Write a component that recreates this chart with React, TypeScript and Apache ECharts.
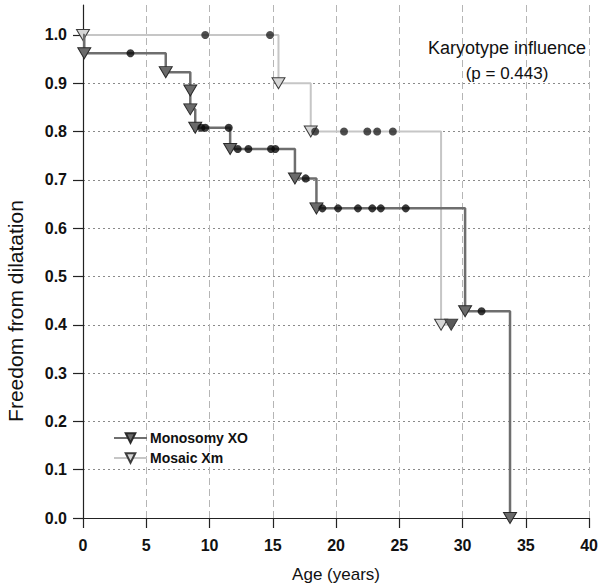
import React, { useEffect, useRef } from 'react';
import * as echarts from 'echarts';

// ---- data ----
const xTickValues = [0, 5, 10, 15, 20, 25, 30, 35, 40];
const yTickValues = [0, 0.1, 0.2, 0.3, 0.4, 0.5, 0.6, 0.7, 0.8, 0.9, 1.0];

const seriesNames = ['Monosomy XO', 'Mosaic Xm'];

// Monosomy XO: step points (time, survival after the event)
const monoTimes = [0, 0.1, 6.54, 8.48, 8.48, 8.87, 11.63, 16.75, 18.45, 30.2, 33.75];
const monoSurv = [1.0, 0.962, 0.923, 0.885, 0.846, 0.808, 0.764, 0.703, 0.641, 0.428, 0.0];
// Monosomy XO censored observations
const monoCensorTimes = [3.75, 9.35, 9.66, 11.52, 12.23, 13.07, 14.86, 15.2, 17.6, 18.92, 20.16, 21.73, 22.86, 23.54, 25.51, 31.5];
const monoCensorSurv = [0.962, 0.808, 0.808, 0.808, 0.764, 0.764, 0.764, 0.764, 0.703, 0.641, 0.641, 0.641, 0.641, 0.641, 0.641, 0.428];

// Mosaic Xm
const mosaicTimes = [0, 15.45, 18.0, 28.3, 29.1];
const mosaicSurv = [1.0, 0.9, 0.8, 0.4, 0.4];
const mosaicCensorTimes = [9.66, 14.78, 18.35, 20.63, 22.47, 23.25, 24.49];
const mosaicCensorSurv = [1.0, 1.0, 0.8, 0.8, 0.8, 0.8, 0.8];

const annotationLines = ['Karyotype influence', '(p = 0.443)'];
const xAxisTitle = 'Age (years)';
const yAxisTitle = 'Freedom from dilatation';

const TRI = 'path://M0,0L12,0L6,10Z';
const FONT = '"Liberation Sans", Arial, Helvetica, sans-serif';

export default function App() {
  const ref = useRef<HTMLDivElement>(null);

  useEffect(() => {
    if (!ref.current) return;
    const chart = echarts.init(ref.current, undefined, { renderer: 'svg' });

    const monoData = monoTimes.map((t, i) =>
      i === 0 ? { value: [t, monoSurv[i]], symbol: 'none' } : { value: [t, monoSurv[i]] }
    );
    const mosaicData = mosaicTimes.map((t, i) =>
      i === mosaicTimes.length - 1
        ? { value: [t, mosaicSurv[i]], itemStyle: { color: '#5a5a5a' } }
        : { value: [t, mosaicSurv[i]] }
    );
    const monoCensor = monoCensorTimes.map((t, i) => [t, monoCensorSurv[i]]);
    const mosaicCensor = mosaicCensorTimes.map((t, i) => [t, mosaicCensorSurv[i]]);

    const option: any = {
      animation: false,
      backgroundColor: '#ffffff',
      grid: { left: 83, right: 10, top: 5, bottom: 68, containLabel: false },
      xAxis: {
        type: 'value',
        min: 0,
        max: 40,
        interval: 5,
        name: xAxisTitle,
        nameLocation: 'middle',
        nameGap: 48,
        nameTextStyle: { fontFamily: FONT, fontSize: 17, color: '#111' },
        axisLine: { show: true, onZero: false, lineStyle: { color: '#222', width: 1.2 } },
        axisTick: { show: true, length: 10, lineStyle: { color: '#222', width: 1.2 } },
        axisLabel: {
          margin: 19,
          fontFamily: FONT,
          fontSize: 16,
          fontWeight: 'bold',
          color: '#111',
          formatter: (v: number) => (xTickValues.includes(v) ? String(v) : ''),
        },
        splitLine: {
          show: true,
          showMinLine: false,
          lineStyle: { color: '#b5b5b5', type: [7, 4], width: 1 },
        },
      },
      yAxis: {
        type: 'value',
        min: 0,
        max: 1.062,
        interval: 0.1,
        axisLine: { show: true, onZero: false, lineStyle: { color: '#222', width: 1.2 } },
        axisTick: {
          show: true,
          length: 10,
          customValues: yTickValues,
          lineStyle: { color: '#222', width: 1.2 },
        },
        axisLabel: {
          margin: 16,
          fontFamily: FONT,
          fontSize: 16,
          fontWeight: 'bold',
          color: '#111',
          formatter: (v: number) => (v <= 1.0001 ? v.toFixed(1) : ''),
        },
        splitLine: {
          show: true,
          showMinLine: false,
          showMaxLine: false,
          lineStyle: { color: '#8a8a8a', type: [2, 3], width: 1 },
        },
      },
      legend: {
        show: true,
        orient: 'vertical',
        left: 108,
        top: 426,
        itemWidth: 33,
        itemHeight: 12,
        itemGap: 6,
        data: seriesNames,
        textStyle: { fontFamily: FONT, fontSize: 14, fontWeight: 'bold', color: '#111', padding: [0, 0, 0, -2] },
      },
      graphic: [
        ...annotationLines.map((txt, i) => ({
          type: 'text',
          x: 507,
          y: 48 + i * 25,
          z: 100,
          style: {
            text: txt,
            fill: '#111',
            font: `${i === 0 ? 18 : 17}px ${FONT}`,
            align: 'center',
            verticalAlign: 'middle',
            textAlign: 'center',
            textVerticalAlign: 'middle',
          },
        })),
        {
          type: 'text',
          x: 15,
          y: 311,
          rotation: Math.PI / 2,
          z: 100,
          style: {
            text: yAxisTitle,
            fill: '#111',
            font: `21px ${FONT}`,
            align: 'center',
            verticalAlign: 'middle',
            textAlign: 'center',
            textVerticalAlign: 'middle',
          },
        },
      ],
      series: [
        {
          name: seriesNames[1],
          type: 'line',
          step: 'end',
          data: mosaicData,
          symbol: TRI,
          symbolSize: [13, 11],
          showAllSymbol: true,
          lineStyle: { color: '#c6c6c6', width: 2 },
          itemStyle: { color: '#d6d6d6', borderColor: '#3c3c3c', borderWidth: 1 },
          z: 3,
        },
        {
          name: seriesNames[0],
          type: 'line',
          step: 'end',
          data: monoData,
          symbol: TRI,
          symbolSize: [13, 11],
          showAllSymbol: true,
          lineStyle: { color: '#6e6e6e', width: 2.5 },
          itemStyle: { color: '#6a6a6a', borderColor: '#2a2a2a', borderWidth: 1 },
          z: 4,
        },
        {
          name: 'Mosaic censored',
          type: 'scatter',
          data: mosaicCensor,
          symbol: 'circle',
          symbolSize: 8,
          itemStyle: { color: '#222' },
          z: 5,
        },
        {
          name: 'Monosomy censored',
          type: 'scatter',
          data: monoCensor,
          symbol: 'circle',
          symbolSize: 8,
          itemStyle: { color: '#0a0a0a' },
          z: 5,
        },
      ],
    };

    chart.setOption(option);
    return () => chart.dispose();
  }, []);

  return (
    <div
      ref={ref}
      style={{ position: 'fixed', left: 0, top: 0, width: 601, height: 588, background: '#fff' }}
    />
  );
}
